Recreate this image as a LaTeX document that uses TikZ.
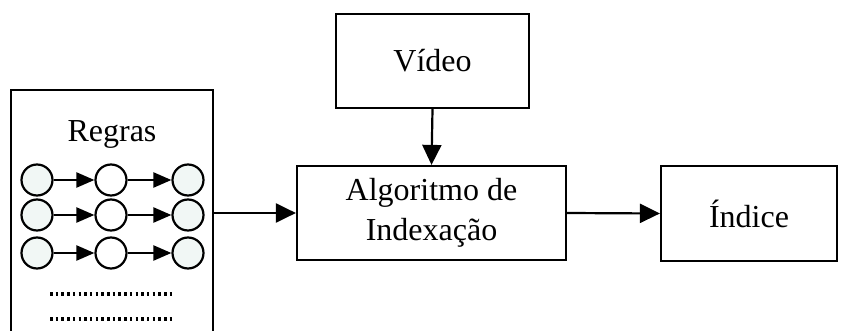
\documentclass[tikz,border=0pt]{standalone}
\usepackage{fontspec}
\setmainfont{Liberation Serif}
\usetikzlibrary{arrows.meta}
\definecolor{cfill}{HTML}{F1F7F5}
\tikzset{
  box/.style={draw, line width=2.2pt, inner sep=0pt, font=\fontsize{32}{40}\selectfont, align=center},
  circ/.style={draw, circle, line width=2.2pt, minimum size=31pt, inner sep=0pt},
  arr/.style={line width=2.2pt, -{Triangle[length=20pt,width=19pt]}},
  sarr/.style={line width=2.2pt, -{Triangle[length=18pt,width=15pt]}},
  dotline/.style={line width=3.5pt, dash pattern=on 2.5pt off 3.2pt}
}
\begin{document}
\begin{tikzpicture}[x=1pt,y=-1pt]
\useasboundingbox (0,0) rectangle (842,331);
% Regras panel (open at bottom)
\draw[line width=2.2pt] (11,331) -- (11,90) -- (213,90) -- (213,331);
\node[font=\fontsize{32}{40}\selectfont] (regras) at (112,134) {Regras};
% circles
\foreach \r/\y in {1/180,2/215,3/253}{
  \node[circ, fill=cfill] (a\r) at (37,\y) {};
  \node[circ, fill=white] (b\r) at (111,\y) {};
  \node[circ, fill=cfill] (c\r) at (188,\y) {};
  \draw[sarr] (a\r) -- (b\r);
  \draw[sarr] (b\r) -- (c\r);
}
\coordinate (d1s) at (50,294); \coordinate (d1e) at (174,294);
\coordinate (d2s) at (50,319); \coordinate (d2e) at (174,319);
\draw[dotline] (d1s) -- (d1e);
\draw[dotline] (d2s) -- (d2e);
\coordinate (rout) at (213,213);
% boxes
\node[box, minimum width=193pt, minimum height=94pt] (video) at (432.5,61) {Vídeo};
\node[box, minimum width=269pt, minimum height=94pt] (alg) at (431.5,213) {Algoritmo de\\Indexação};
\node[box, minimum width=176pt, minimum height=95pt] (ind) at (749,213.5) {Índice};
% connectors
\draw[arr] (video.south) -- (alg.north);
\draw[arr] (rout) -- (alg.west);
\draw[arr] (alg.east) -- (ind.west);
\end{tikzpicture}
\end{document}
